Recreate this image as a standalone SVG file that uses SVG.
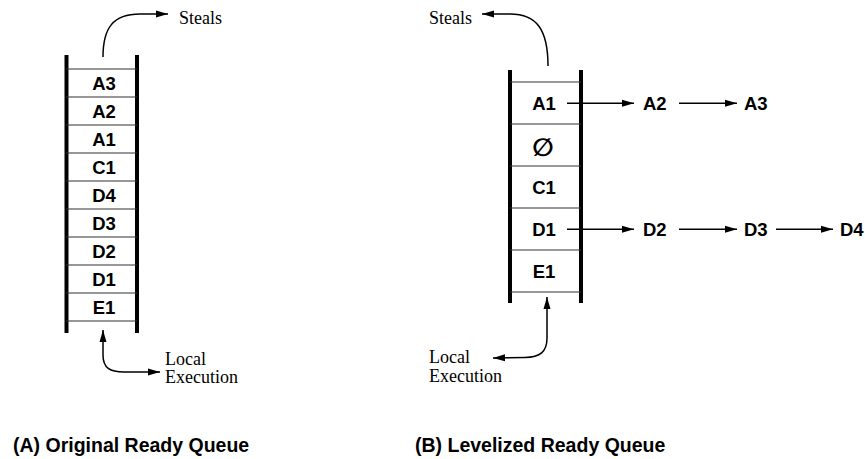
<svg xmlns="http://www.w3.org/2000/svg" width="865" height="459" viewBox="0 0 865 459">
<style>
.bar{stroke:#000;stroke-width:4;fill:none}
.row{stroke:#333;stroke-width:1.2;fill:none}
.cell{font-family:"Liberation Sans",Arial,sans-serif;font-weight:bold;font-size:18.5px;fill:#000;text-anchor:middle}
.lbl{font-family:"Liberation Sans",Arial,sans-serif;font-weight:bold;font-size:18.5px;fill:#000}
.serif{font-family:"Liberation Serif","Times New Roman",serif;font-size:18px;fill:#000}
.cap{font-family:"Liberation Sans",Arial,sans-serif;font-weight:bold;font-size:19.5px;fill:#000}
.conn{stroke:#000;stroke-width:1.5;fill:none}
</style>
<defs>
<marker id="ah" markerUnits="userSpaceOnUse" markerWidth="14" markerHeight="10" refX="12" refY="4" orient="auto">
<path d="M0,0.5 L12,4 L0,7.5 Z" fill="#000"/>
</marker>
<marker id="ahs" markerUnits="userSpaceOnUse" markerWidth="14" markerHeight="10" refX="0" refY="4" orient="auto">
<path d="M12,0.5 L0,4 L12,7.5 Z" fill="#000"/>
</marker>
</defs>

<g id="queueA">
<line class="bar" x1="66.5" y1="55" x2="66.5" y2="333"/>
<line class="bar" x1="137" y1="55" x2="137" y2="333"/>
<line class="row" x1="66" y1="69" x2="137" y2="69"/>
<line class="row" x1="66" y1="97" x2="137" y2="97"/>
<line class="row" x1="66" y1="125" x2="137" y2="125"/>
<line class="row" x1="66" y1="153" x2="137" y2="153"/>
<line class="row" x1="66" y1="181" x2="137" y2="181"/>
<line class="row" x1="66" y1="209" x2="137" y2="209"/>
<line class="row" x1="66" y1="237" x2="137" y2="237"/>
<line class="row" x1="66" y1="265" x2="137" y2="265"/>
<line class="row" x1="66" y1="293" x2="137" y2="293"/>
<line class="row" x1="66" y1="321" x2="137" y2="321"/>
<text class="cell" x="104" y="89.5">A3</text>
<text class="cell" x="104" y="117.5">A2</text>
<text class="cell" x="104" y="145.5">A1</text>
<text class="cell" x="104" y="173.5">C1</text>
<text class="cell" x="104" y="201.5">D4</text>
<text class="cell" x="104" y="229.5">D3</text>
<text class="cell" x="104" y="257.5">D2</text>
<text class="cell" x="104" y="285.5">D1</text>
<text class="cell" x="104" y="313.5">E1</text>
</g>

<g id="queueB">
<line class="bar" x1="510" y1="70" x2="510" y2="303"/>
<line class="bar" x1="581" y1="70" x2="581" y2="303"/>
<line class="row" x1="510" y1="82" x2="581" y2="82"/>
<line class="row" x1="510" y1="124" x2="581" y2="124"/>
<line class="row" x1="510" y1="166" x2="581" y2="166"/>
<line class="row" x1="510" y1="208" x2="581" y2="208"/>
<line class="row" x1="510" y1="250" x2="581" y2="250"/>
<line class="row" x1="510" y1="292" x2="581" y2="292"/>
<text class="cell" x="544" y="110">A1</text>
<text x="543" y="156" style="font-family:'DejaVu Sans',sans-serif;font-weight:bold;font-size:25px;text-anchor:middle">∅</text>
<text class="cell" x="544" y="194">C1</text>
<text class="cell" x="544" y="236">D1</text>
<text class="cell" x="544" y="278">E1</text>
</g>

<g id="chainA">
<text class="lbl" x="643" y="110">A2</text>
<text class="lbl" x="744" y="110">A3</text>
</g>
<g id="chainD">
<text class="lbl" x="643" y="236">D2</text>
<text class="lbl" x="744" y="236">D3</text>
<text class="lbl" x="840" y="236">D4</text>
</g>

<g id="labels">
<text class="serif" x="179" y="24">Steals</text>
<text class="serif" x="165" y="364.5">Local</text>
<text class="serif" x="165" y="383">Execution</text>
<text class="serif" x="429" y="24">Steals</text>
<text class="serif" x="429" y="363">Local</text>
<text class="serif" x="429" y="381.5">Execution</text>
<text class="cap" x="13" y="451.5">(A) Original Ready Queue</text>
<text class="cap" x="415" y="451.5">(B) Levelized Ready Queue</text>
</g>

<g id="connectors">
<path class="conn" d="M103,57 C103,28 113,14 140,14 L168,14" marker-end="url(#ah)"/>
<path class="conn" d="M103,330 L103,355 C103,368 110,372 124,372 L160,372" marker-start="url(#ahs)" marker-end="url(#ah)"/>
<path class="conn" d="M548,66 C548,30 537,14 510,14 L482,14" marker-end="url(#ah)"/>
<path class="conn" d="M547,297 L547,338 C547,352 540,357 525,357.5 L493,358" marker-start="url(#ahs)" marker-end="url(#ah)"/>
<path class="conn" d="M567,103.3 L634,103.3" marker-end="url(#ah)"/>
<path class="conn" d="M679,103.3 L737,103.3" marker-end="url(#ah)"/>
<path class="conn" d="M567,229.3 L634,229.3" marker-end="url(#ah)"/>
<path class="conn" d="M679,229.3 L737,229.3" marker-end="url(#ah)"/>
<path class="conn" d="M776,229.3 L833,229.3" marker-end="url(#ah)"/>
</g>
</svg>
